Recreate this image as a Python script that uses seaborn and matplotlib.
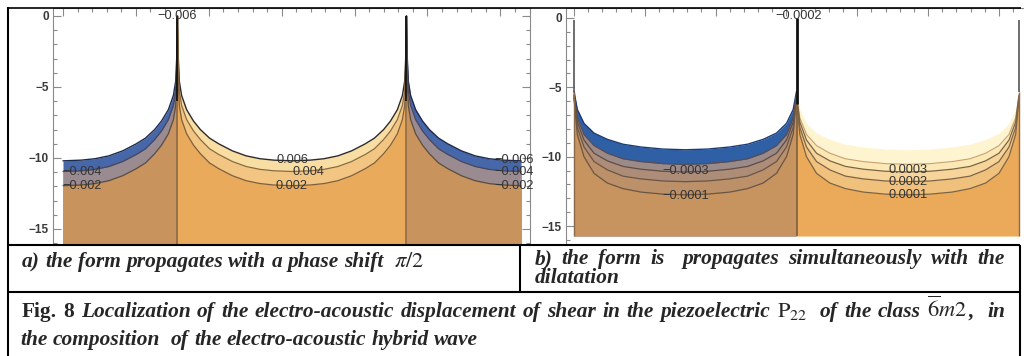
import numpy as np
import matplotlib
matplotlib.use("Agg")
import matplotlib.pyplot as plt
from matplotlib.lines import Line2D
import seaborn as sns

# ---------------- data ----------------
# Depth (y) of every contour as a function of the distance u from a node,
# u measured in half-periods (0 = node, 0.5 = middle of a lobe).
a_u       = [0.000, 0.003, 0.008, 0.018, 0.040, 0.070, 0.100, 0.140, 0.180, 0.240, 0.300, 0.360, 0.420, 0.500]
a_edge    = [0.0, -2.8, -4.6, -5.6, -6.6, -7.4, -8.0, -8.6, -9.0, -9.5, -9.85, -10.05, -10.15, -10.2]     # |v| = 0.006
a_lvl_004 = [0.0, -3.5, -5.3, -6.3, -7.3, -8.1, -8.7, -9.35, -9.75, -10.25, -10.6, -10.8, -10.9, -10.95]  # |v| = 0.004
a_lvl_002 = [0.0, -4.5, -6.3, -7.3, -8.3, -9.1, -9.7, -10.35, -10.75, -11.25, -11.6, -11.8, -11.9, -11.95]  # |v| = 0.002
a_lobe_centers = [0.0, 1.0, 2.0]     # in half-periods
a_lobe_signs   = [-1, 1, -1]
a_nodes        = [0.5, 1.5]
a_ybottom      = -16.6

b_u       = [0.000, 0.015, 0.045, 0.090, 0.150, 0.220, 0.300, 0.400, 0.500]
b_edge    = [-5.3, -6.6, -7.6, -8.3, -8.75, -9.1, -9.3, -9.45, -9.5]
b_lvl_4   = [-5.5, -7.2, -8.4, -9.2, -9.75, -10.15, -10.35, -10.5, -10.55]   # |v| = 0.0004
b_lvl_3   = [-5.6, -7.5, -8.8, -9.75, -10.3, -10.7, -10.9, -11.05, -11.1]   # |v| = 0.0003
b_lvl_2   = [-5.7, -7.9, -9.3, -10.35, -10.95, -11.4, -11.6, -11.75, -11.8]  # |v| = 0.0002
b_lvl_1   = [-5.8, -8.4, -10.0, -11.2, -11.9, -12.3, -12.55, -12.7, -12.75]  # |v| = 0.0001
b_lobe_centers = [0.5, 1.5]
b_lobe_signs   = [-1, 1]
b_nodes        = [0.0, 1.0, 2.0]
b_ybottom      = -15.7

y_ticks       = [0, -5, -10, -15]
y_tick_labels = ["0", "\u22125", "\u221210", "\u221215"]

# contour labels: text, x (half-periods), y
a_labels = [("\u22120.006", 0.50, 0.0, 'center'),
            ("0.006", 1.00, -10.12, 'center'),
            ("0.004", 1.07, -11.02, 'center'),
            ("0.002", 1.00, -12.0, 'center'),
            ("\u22120.004", 0.17, -10.98, 'right'),
            ("\u22120.002", 0.17, -12.0, 'right'),
            ("\u22120.006", 1.885, -10.12, 'left'),
            ("\u22120.004", 1.885, -11.02, 'left'),
            ("\u22120.002", 1.885, -12.0, 'left')]
b_labels = [("\u22120.0002", 1.01, 0.15, 'center'),
            ("\u22120.0003", 0.50, -11.06, 'center'),
            ("\u22120.0001", 0.50, -12.8, 'center'),
            ("0.0003", 1.50, -10.95, 'center'),
            ("0.0002", 1.50, -11.84, 'center'),
            ("0.0001", 1.50, -12.76, 'center')]

cap_a_text  = "a) the form propagates with a phase shift"
cap_a_math  = r"$\pi/2$"
cap_b_line1 = "b) the form is  propagates simultaneously with the"
cap_b_line2 = "dilatation"
fig_head    = "Fig. 8"
fig_line1   = "Localization of the electro-acoustic displacement of shear in the piezoelectric"
fig_math1   = r"$\mathrm{P}_{22}$"
fig_mid     = "of the class"
fig_math2   = r"$\overline{6}m2$"
fig_tail    = ["," , "in"]
fig_line2   = "the composition  of the electro-acoustic hybrid wave"

# ---------------- style ----------------
sns.set_theme(style="white")
plt.rcParams['font.family'] = ['Liberation Sans', 'DejaVu Sans']
plt.rcParams['mathtext.fontset'] = 'stix'

W, H, DPI = 1024, 356, 100
fig = plt.figure(figsize=(W / DPI, H / DPI), dpi=DPI)
fig.patch.set_facecolor('white')


def add_axes_px(l, r, t, b):
    return fig.add_axes([l / W, 1 - b / H, (r - l) / W, (b - t) / H])


def style_axes(ax, right_spine):
    for sp in ['top', 'left', 'right', 'bottom']:
        ax.spines[sp].set_color('#8a8a8a')
        ax.spines[sp].set_linewidth(0.8)
    ax.spines['bottom'].set_visible(False)
    ax.spines['right'].set_visible(right_spine)
    ax.set_facecolor('white')
    ax.set_yticks(y_ticks)
    ax.set_yticklabels(y_tick_labels, fontweight='bold', fontsize=8.5, color='#3a3a3a')
    ax.set_yticks(np.arange(-16, 1, 1.0), minor=True)
    ax.set_xticks(np.arange(0, 7, 1.0))
    ax.set_xticks(np.arange(0, 6.6, 0.2), minor=True)
    ax.tick_params(axis='y', which='both', direction='in', left=True, right=right_spine,
                   color='#8a8a8a', width=0.8, pad=3)
    ax.tick_params(axis='y', which='major', length=6)
    ax.tick_params(axis='y', which='minor', length=3)
    ax.tick_params(axis='x', which='both', direction='in', top=True, bottom=False,
                   labelbottom=False, labeltop=False, color='#8a8a8a', width=0.8)
    ax.tick_params(axis='x', which='major', length=6)
    ax.tick_params(axis='x', which='minor', length=3)
    ax.grid(False)


def draw_lobes(ax, centers, signs, u, levels, ybot, cols_neg, cols_pos, lc_neg, lc_pos):
    u = np.asarray(u, float)
    for c, sg in zip(centers, signs):
        s = np.concatenate([c - 0.5 + u, (c + 0.5 - u[::-1])[1:]])
        curves = [np.concatenate([np.asarray(L, float), np.asarray(L, float)[::-1][1:]]) for L in levels]
        keep = (s >= -1e-9) & (s <= 2 + 1e-9)
        x = np.pi * s[keep]
        curves = [cv[keep] for cv in curves]
        cols = cols_neg if sg < 0 else cols_pos
        lcs = lc_neg if sg < 0 else lc_pos
        for cv, col in zip(curves, cols[:-1]):
            ax.fill_between(x, cv, ybot, color=col, lw=0, zorder=1)
        ax.fill_between(x, curves[-1], ybot, color=cols[-1], lw=0, zorder=1)
        for cv, (lc, lw) in zip(curves, lcs):
            if lc is None:
                continue
            sns.lineplot(x=x, y=cv, ax=ax, color=lc, lw=lw, sort=False, estimator=None,
                         legend=False, zorder=3)


def draw_labels(ax, labels, x_lo, x_hi, ylo, yhi):
    from matplotlib.patches import Rectangle
    clip = Rectangle((x_lo, ylo), x_hi - x_lo, yhi - ylo, transform=ax.transData,
                     facecolor='none', edgecolor='none')
    ax.add_patch(clip)
    for txt, sx, y, ha in labels:
        t = ax.text(np.pi * sx, y, txt, ha=ha, va='center', fontsize=9.2,
                    color='#333333', zorder=5, family='Liberation Sans')
        t.set_clip_path(clip)


# ---------------- panel a ----------------
ax_a = add_axes_px(53, 530, 8, 245)
a_px0, a_px1 = 63, 521
sca = 2 * np.pi / (a_px1 - a_px0)
ax_a.set_xlim(-(a_px0 - 53) * sca, 2 * np.pi + (530 - a_px1) * sca)
ax_a.set_ylim(-(245 - 16) / 14.2, (16 - 8) / 14.2)
style_axes(ax_a, right_spine=True)

draw_lobes(ax_a, a_lobe_centers, a_lobe_signs, a_u, [a_edge, a_lvl_004, a_lvl_002], a_ybottom,
           cols_neg=['#4767ab', '#9a8b90', '#c8935d'],
           cols_pos=['#f9dea3', '#f2c583', '#eaaa5b'],
           lc_neg=[('#1d2a4c', 1.0), ('#4c4658', 0.9), ('#5e4c3e', 0.9)],
           lc_pos=[('#2e2a2a', 1.0), ('#8a6a40', 0.9), ('#7d5f3c', 0.9)])
for n in a_nodes:
    ax_a.vlines(np.pi * n, a_ybottom, -6.0, color='#8a6a48', lw=1.2, zorder=4)
    ax_a.vlines(np.pi * n, -6.0, 0.0, color='#111111', lw=1.3, zorder=4)
draw_labels(ax_a, a_labels, 0, 2 * np.pi, -20, 2)

# ---------------- panel b ----------------
ax_b = add_axes_px(566, 1030, 8, 243)
b_px0, b_px1 = 574, 1019
scb = 2 * np.pi / (b_px1 - b_px0)
ax_b.set_xlim(-(b_px0 - 566) * scb, (1030 - b_px0) * scb)
ax_b.set_ylim(-(243 - 18) / 13.87, (18 - 8) / 13.87)
style_axes(ax_b, right_spine=False)

draw_lobes(ax_b, b_lobe_centers, b_lobe_signs, b_u, [b_edge, b_lvl_4, b_lvl_3, b_lvl_2, b_lvl_1], b_ybottom,
           cols_neg=['#2f60a6', '#9c8a88', '#ae8d78', '#bc9068', '#c7935e'],
           cols_pos=['#fff4d0', '#fce8b5', '#f6d49a', '#f0c07d', '#eaaa5a'],
           lc_neg=[('#1c3c74', 1.0), ('#5a4c50', 0.9), ('#5e4d44', 0.9), ('#6a5644', 0.9), ('#6a5644', 0.9)],
           lc_pos=[(None, 0), ('#c8a070', 0.8), ('#7d6444', 0.9), ('#7d6444', 0.9), ('#7d6444', 0.9)])
for n in b_nodes:
    if n == 1.0:
        ax_b.vlines(np.pi * n, b_ybottom, -6.2, color='#7d5f3e', lw=1.2, zorder=4)
        ax_b.vlines(np.pi * n, -6.2, 0.0, color='#111111', lw=2.0, zorder=4)
    else:
        ax_b.vlines(np.pi * n, b_ybottom, -5.3, color='#8a6a48', lw=1.0, zorder=4)
        ax_b.vlines(np.pi * n, -5.3, -0.15, color='#555555', lw=1.2, zorder=4)
draw_labels(ax_b, b_labels, 0, 2 * np.pi, -20, 2)

# ---------------- caption table ----------------
renderer = fig.canvas.get_renderer()
SERIF = 'Liberation Serif'


def tprops(kind):
    if kind == 'bi':
        return dict(family=SERIF, weight='bold', style='italic')
    if kind == 'b':
        return dict(family=SERIF, weight='bold', style='normal')
    return dict(family=SERIF)


def measure(s, kind, fs):
    t = fig.text(0, 0, s, fontsize=fs, **tprops(kind))
    w = t.get_window_extent(renderer).width
    t.remove()
    return w


def words(s, kind, last_gap=1.0):
    toks = []
    for wd in s.split(' '):
        if wd == '':
            if toks:
                toks[-1][2] += 1.0
            continue
        toks.append([wd, kind, 1.0])
    if toks:
        toks[-1][2] = last_gap
    return toks


def place_line(tokens, x0, base, fs, x1=None, math_scale=1.05):
    sizes = [fs * (math_scale if k == 'm' else 1.0) for _, k, _ in tokens]
    widths = [measure(s, k, z) for (s, k, _), z in zip(tokens, sizes)]
    space = 0.25 * fs * DPI / 72
    gw = [tk[2] for tk in tokens[:-1]]
    gaps = [g * space for g in gw]
    if x1 is not None:
        extra = (x1 - x0) - (sum(widths) + sum(gaps))
        tot = sum(gw)
        gaps = [gp + extra * g / tot for gp, g in zip(gaps, gw)]
    x = x0
    for i, ((s, k, _), z) in enumerate(zip(tokens, sizes)):
        fig.text(x / W, 1 - base / H, s, fontsize=z, ha='left', va='baseline', **tprops(k))
        if i < len(gaps):
            x += widths[i] + gaps[i]


fs = 14.0 * 361.0 / measure(cap_a_text, 'bi', 14.0)

place_line(words(cap_a_text, 'bi', last_gap=2.0) + [[cap_a_math, 'm', 0]], 22, 267, fs)
place_line(words(cap_b_line1, 'bi'), 535, 264, fs, x1=1005)
place_line(words(cap_b_line2, 'bi'), 535, 283, fs)

line1 = [[fig_head.split(' ')[0], 'b', 1.0], [fig_head.split(' ')[1], 'b', 1.0]]
line1 += words(fig_line1, 'bi')
line1 += [[fig_math1, 'm', 2.0]]
line1 += words(fig_mid, 'bi')
line1 += [[fig_math2, 'm', 0.3], [fig_tail[0], 'bi', 2.0], [fig_tail[1], 'bi', 0]]
nat = sum(measure(s, k, fs) for s, k, _ in line1) + sum(t[2] for t in line1[:-1]) * 0.25 * fs * DPI / 72
fs1 = fs if nat < 983 * 0.99 else fs * 983 * 0.97 / nat
place_line(line1, 22, 317, fs1, x1=1005)
place_line(words(fig_line2, 'bi'), 20, 345, fs1)

# table rules
def rule(x0, y0, x1, y1, lw=1.5):
    fig.add_artist(Line2D([x0 / W, x1 / W], [1 - y0 / H, 1 - y1 / H], transform=fig.transFigure,
                          color='black', lw=lw, solid_capstyle='butt', zorder=10))

rule(7.5, 7, 7.5, 356)
rule(7, 7.5, 1021, 7.5, lw=1.2)
rule(1020, 245, 1020, 356)
rule(7, 245, 1020, 245)
rule(7, 292, 1020, 292)
rule(520, 245, 520, 292)

fig.savefig("out.png", dpi=DPI, facecolor='white')
